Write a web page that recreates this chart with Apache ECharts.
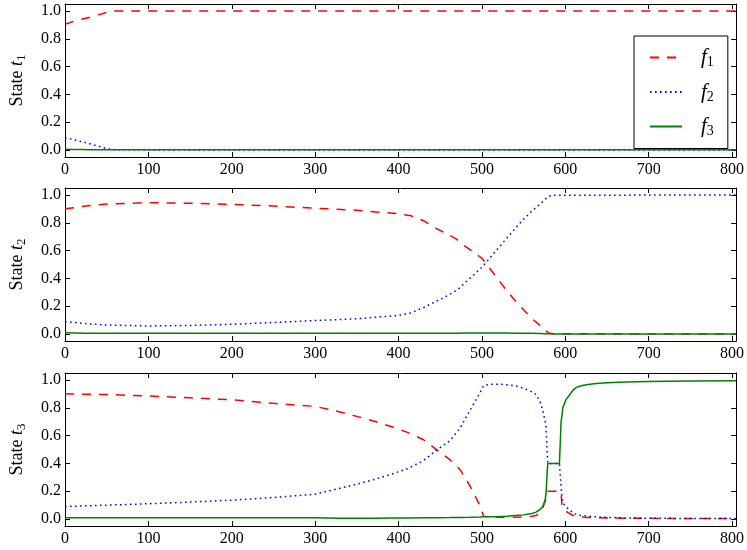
<!DOCTYPE html>
<html>
<head>
<meta charset="utf-8">
<script src="https://cdn.jsdelivr.net/npm/echarts@6/dist/echarts.min.js"></script>
<style>html,body{margin:0;padding:0;background:#fff;}#c{width:747px;height:550px;}</style>
</head>
<body>
<div id="c"></div>
<script>
// ---------- data ----------
const seriesNames = ['f1', 'f2', 'f3'];
const panelLabels = ['1', '2', '3'];
const xTicks = [0, 100, 200, 300, 400, 500, 600, 700, 800];
const yTicks = [0, 0.2, 0.4, 0.6, 0.8, 1.0];

// State t1
const t1X  = [0, 10, 20, 30, 40, 50, 60, 100, 200, 300, 400, 500, 600, 700, 805];
const t1F1 = [0.905, 0.925, 0.94, 0.955, 0.972, 0.99, 0.999, 1.0, 1.0, 1.0, 1.0, 1.0, 1.0, 1.0, 1.0];
const t1F2 = [0.09, 0.075, 0.06, 0.045, 0.028, 0.01, 0.002, 0.001, 0.001, 0.001, 0.001, 0.001, 0.001, 0.001, 0.001];
const t1F3 = [0.005, 0.004, 0.004, 0.003, 0.003, 0.003, 0.002, 0.002, 0.002, 0.002, 0.002, 0.002, 0.002, 0.002, 0.002];

// State t2
const t2X  = [0, 25, 50, 100, 150, 200, 250, 300, 350, 380, 400, 415, 430, 445, 460, 470, 480, 490, 500, 510, 520, 530, 540, 550, 560, 570, 575, 580, 585, 600, 700, 805];
const t2F1 = [0.90, 0.92, 0.935, 0.945, 0.94, 0.933, 0.92, 0.905, 0.89, 0.875, 0.865, 0.85, 0.815, 0.76, 0.715, 0.68, 0.63, 0.59, 0.545, 0.468, 0.39, 0.31, 0.24, 0.175, 0.11, 0.062, 0.03, 0.008, 0.003, 0.002, 0.001, 0.001];
const t2F2 = [0.09, 0.075, 0.065, 0.058, 0.062, 0.07, 0.083, 0.097, 0.11, 0.124, 0.133, 0.152, 0.19, 0.235, 0.28, 0.315, 0.37, 0.425, 0.48, 0.55, 0.62, 0.69, 0.76, 0.825, 0.885, 0.935, 0.965, 0.99, 0.997, 0.998, 0.999, 0.999];
const t2F3 = [0.01, 0.006, 0.005, 0.005, 0.005, 0.005, 0.005, 0.005, 0.005, 0.005, 0.005, 0.006, 0.006, 0.006, 0.006, 0.006, 0.007, 0.007, 0.007, 0.007, 0.007, 0.007, 0.006, 0.006, 0.005, 0.004, 0.003, 0.002, 0.001, 0.001, 0.001, 0.001];

// State t3
const t3X  = [0, 50, 100, 150, 200, 250, 300, 330, 350, 370, 390, 410, 430, 446, 462, 474, 486, 498, 502, 510, 520, 530, 540, 550, 560, 565, 570, 573, 576, 577, 578, 579, 585, 590, 593, 595, 596, 597, 599, 601, 605, 609, 613, 617, 625, 637, 650, 673, 700, 750, 805];
const t3F1 = [0.90, 0.895, 0.885, 0.872, 0.857, 0.832, 0.81, 0.77, 0.738, 0.705, 0.667, 0.625, 0.57, 0.497, 0.425, 0.354, 0.235, 0.093, 0.02, 0.015, 0.013, 0.013, 0.013, 0.015, 0.02, 0.025, 0.05, 0.08, 0.13, 0.15, 0.18, 0.2, 0.2, 0.2, 0.2, 0.18, 0.105, 0.09, 0.07, 0.055, 0.04, 0.027, 0.02, 0.016, 0.012, 0.01, 0.008, 0.006, 0.005, 0.004, 0.003];
const t3F2 = [0.09, 0.10, 0.11, 0.122, 0.136, 0.155, 0.178, 0.222, 0.25, 0.283, 0.32, 0.36, 0.42, 0.497, 0.565, 0.655, 0.785, 0.91, 0.96, 0.968, 0.97, 0.965, 0.958, 0.94, 0.915, 0.895, 0.84, 0.78, 0.70, 0.66, 0.52, 0.40, 0.40, 0.40, 0.40, 0.235, 0.16, 0.13, 0.10, 0.085, 0.07, 0.045, 0.034, 0.027, 0.022, 0.015, 0.012, 0.008, 0.006, 0.004, 0.003];
const t3F3 = [0.01, 0.01, 0.01, 0.01, 0.01, 0.009, 0.009, 0.006, 0.006, 0.006, 0.007, 0.008, 0.01, 0.01, 0.011, 0.012, 0.013, 0.015, 0.016, 0.017, 0.018, 0.02, 0.025, 0.03, 0.04, 0.05, 0.07, 0.09, 0.14, 0.19, 0.30, 0.40, 0.40, 0.40, 0.40, 0.70, 0.74, 0.80, 0.83, 0.86, 0.89, 0.925, 0.945, 0.955, 0.965, 0.975, 0.98, 0.986, 0.989, 0.992, 0.994];

// ---------- chart ----------
const panels = [
  { x: t1X, ys: [t1F1, t1F2, t1F3] },
  { x: t2X, ys: [t2F1, t2F2, t2F3] },
  { x: t3X, ys: [t3F1, t3F2, t3F3] }
];
const gridTops = [4, 188, 373];
const gridH = 153;
const FONT = 'Liberation Serif';
const styles = [
  { color: '#ff0000', type: [9, 8] },
  { color: '#0000ff', type: [1.6, 3.4] },
  { color: '#008000', type: 'solid' }
];

const grid = [], xAxis = [], yAxis = [], series = [];
panels.forEach((p, i) => {
  grid.push({ left: 63, right: 10, top: gridTops[i], height: gridH, show: false });
  const tickCommon = { show: true, inside: true, length: 5, lineStyle: { color: '#000', width: 1 } };
  xAxis.push({
    type: 'value', gridIndex: i, min: 0, max: 805, position: 'bottom',
    axisLine: { show: true, onZero: false, lineStyle: { color: '#000', width: 1 } },
    axisTick: Object.assign({ customValues: xTicks }, tickCommon),
    axisLabel: { customValues: xTicks, color: '#000', fontFamily: FONT, fontSize: 16, margin: 5 },
    splitLine: { show: false }
  });
  xAxis.push({
    type: 'value', gridIndex: i, min: 0, max: 805, position: 'top',
    axisLine: { show: true, onZero: false, lineStyle: { color: '#000', width: 1 } },
    axisTick: Object.assign({ customValues: xTicks }, tickCommon),
    axisLabel: { show: false },
    splitLine: { show: false }
  });
  yAxis.push({
    type: 'value', gridIndex: i, min: -0.05, max: 1.05, position: 'left',
    axisLine: { show: true, onZero: false, lineStyle: { color: '#000', width: 1 } },
    axisTick: Object.assign({ customValues: yTicks }, tickCommon),
    axisLabel: { customValues: yTicks, color: '#000', fontFamily: FONT, fontSize: 16, margin: 4,
                 formatter: v => v.toFixed(1) },
    splitLine: { show: false },
    name: '{n|State }{t|t}{s|' + panelLabels[i] + '}',
    nameLocation: 'middle', nameGap: 37, nameRotate: 90,
    nameTextStyle: {
      rich: {
        n: { fontFamily: FONT, fontSize: 18, color: '#000', lineHeight: 22, verticalAlign: 'middle' },
        t: { fontFamily: FONT, fontSize: 18, fontStyle: 'italic', color: '#000', lineHeight: 22, verticalAlign: 'middle' },
        s: { fontFamily: FONT, fontSize: 13, color: '#000', lineHeight: 22, verticalAlign: 'bottom' }
      }
    }
  });
  yAxis.push({
    type: 'value', gridIndex: i, min: -0.05, max: 1.05, position: 'right',
    axisLine: { show: true, onZero: false, lineStyle: { color: '#000', width: 1 } },
    axisTick: Object.assign({ customValues: yTicks }, tickCommon),
    axisLabel: { show: false },
    splitLine: { show: false }
  });
  p.ys.forEach((ys, k) => {
    series.push({
      name: seriesNames[k], type: 'line', xAxisIndex: i * 2, yAxisIndex: i * 2,
      data: p.x.map((xv, j) => [xv, ys[j]]),
      showSymbol: false, symbol: 'none', animation: false, silent: true,
      lineStyle: { color: styles[k].color, width: 1.5, type: styles[k].type },
      itemStyle: { color: styles[k].color }
    });
  });
});

const chart = echarts.init(document.getElementById('c'), null, { renderer: 'canvas' });
chart.setOption({
  animation: false,
  backgroundColor: '#fff',
  grid, xAxis, yAxis, series,
  legend: {
    data: seriesNames, orient: 'vertical', left: 634, top: 36,
    backgroundColor: '#fff', borderColor: '#000', borderWidth: 1,
    padding: [11, 14, 10, 15], itemGap: 12, itemWidth: 32, itemHeight: 24,
    selectedMode: false,
    itemStyle: { opacity: 0 },
    formatter: name => '{f|f}{s|' + name.slice(1) + '}',
    textStyle: {
      padding: [0, 0, 0, 14],
      rich: {
        f: { fontFamily: FONT, fontSize: 21, fontStyle: 'italic', color: '#000', lineHeight: 24, verticalAlign: 'middle' },
        s: { fontFamily: FONT, fontSize: 14, color: '#000', lineHeight: 24, verticalAlign: 'bottom' }
      }
    }
  }
});
</script>
</body>
</html>
